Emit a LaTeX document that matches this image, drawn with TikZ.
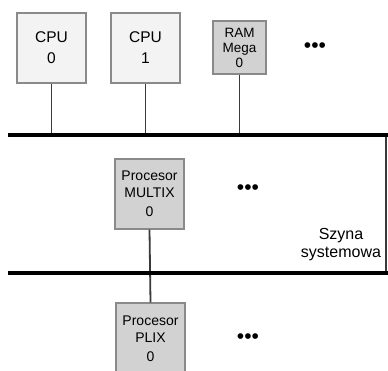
\documentclass[tikz,border=0pt]{standalone}
\usepackage{fontspec}
\setmainfont{Liberation Sans}
\definecolor{lightbox}{HTML}{F3F3F3}
\definecolor{darkbox}{HTML}{D2D2D2}
\definecolor{boxline}{HTML}{8A8A8A}
\definecolor{wire}{HTML}{3A3A3A}
\tikzset{
  unitbox/.style={draw=boxline, line width=1.2pt, minimum width=69pt, minimum height=70pt, inner sep=0pt, align=center, font=\fontsize{15.5}{19}\selectfont},
  cpubox/.style={unitbox, fill=lightbox},
  graybox/.style={unitbox, fill=darkbox, font=\fontsize{14}{16.5}\selectfont},
  rambox/.style={draw=boxline, line width=1.2pt, fill=darkbox, minimum width=53pt, minimum height=53pt, inner sep=0pt, align=center, font=\fontsize{13.5}{15}\selectfont},
  bus/.style={line width=3.5pt, black},
  wireline/.style={line width=1.8pt, wire},
  edge/.style={line width=1.3pt, wire},
  dots/.style={font=\fontsize{21}{21}\selectfont},
  lbl/.style={align=center, font=\fontsize{16}{18}\selectfont}
}
\begin{document}
\begin{tikzpicture}[x=1pt,y=-1pt]
\useasboundingbox (0,0) rectangle (388,371);
\fill[white] (0,0) rectangle (388,371);
% buses
\coordinate (b1l) at (8,135);
\coordinate (b1r) at (390,135);
\coordinate (b2l) at (8,273);
\coordinate (b2r) at (390,273);
\coordinate (r1) at (386,135);
\coordinate (r2) at (386,273);
% nodes
\node[cpubox] (cpu0) at (51.5,48) {CPU\\[2pt]0};
\node[cpubox] (cpu1) at (145.5,48) {CPU\\[2pt]1};
\node[rambox] (ram) at (239.5,47.5) {RAM\\Mega\\0};
\node[dots] (d1) at (315,48) {•••};
\node[graybox] (multix) at (149.5,194) {Procesor\\MULTIX\\[3pt]0};
\node[dots] (d2) at (248,190) {•••};
\node[graybox, minimum height=74pt] (plix) at (150.5,340) {};
\node[font=\fontsize{14}{16.5}\selectfont, align=center] (plixt) at (150.5,339) {Procesor\\PLIX\\[3pt]0};
\node[dots] (d3) at (248,339) {•••};
\node[lbl] (szyna) at (341,245) {Szyna\\systemowa};
% connectors
\draw[wireline] (cpu0.south) -- (cpu0.south |- b1l);
\draw[wireline] (cpu1.south) -- (cpu1.south |- b1l);
\draw[wireline] (ram.south) -- (ram.south |- b1l);
\draw[wireline] (multix.south) -- (plix.north);
\draw[edge] (r1) -- (r2);
\draw[bus] (b1l) -- (b1r);
\draw[bus] (b2l) -- (b2r);
\end{tikzpicture}
\end{document}
